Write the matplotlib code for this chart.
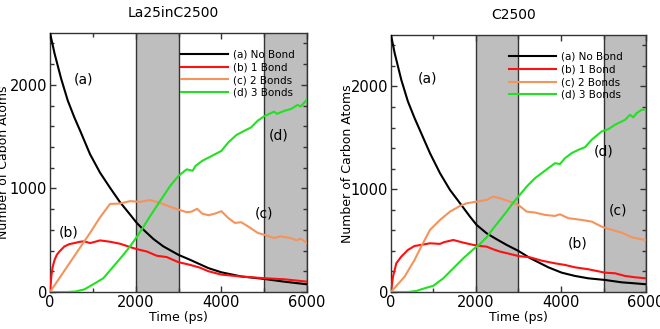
import numpy as np
import matplotlib
matplotlib.use("Agg")
import matplotlib.pyplot as plt
from matplotlib.ticker import MultipleLocator

# ============================================================
# DATA
# ============================================================
# --- La25inC2500 (left) ---
la25_t_a = [0, 107, 260, 414, 567, 720, 934, 1167, 1401, 1634, 1868, 2024, 2179, 2412,
            2646, 2996, 3268, 3700, 4000, 4465, 5000, 5460, 6000]
la25_a = [2500, 2300, 2058, 1848, 1686, 1540, 1330, 1152, 1006, 867, 748, 667, 602, 512,
          440, 359, 311, 230, 190, 150, 126, 100, 74]

la25_t_b = [0, 30, 60, 107, 160, 222, 337, 450, 567, 700, 800, 934, 1000, 1167, 1401, 1634,
            1868, 2024, 2257, 2490, 2724, 2996, 3268, 3500, 3700, 4000, 4465, 5000, 5460, 6000]
la25_b = [0, 150, 240, 311, 360, 392, 440, 462, 472, 485, 489, 472, 479, 498, 485, 466,
          434, 414, 391, 350, 337, 288, 262, 235, 200, 168, 149, 133, 123, 100]

la25_t_c = [0, 720, 934, 1167, 1401, 1634, 1868, 2101, 2335, 2568, 2802, 2996, 3190, 3300,
            3435, 3550, 3700, 3855, 4000, 4160, 4313, 4465, 4620, 4850, 5000, 5230, 5380,
            5610, 5760, 5850, 6000]
la25_c = [0, 440, 570, 720, 850, 854, 877, 870, 887, 861, 822, 796, 770, 775,
          803, 757, 741, 757, 780, 715, 667, 673, 634, 570, 553, 521, 537,
          521, 498, 515, 472]

la25_t_d = [0, 400, 600, 800, 1012, 1245, 1479, 1712, 1868, 2024, 2179, 2335, 2490, 2646,
            2802, 2996, 3190, 3330, 3397, 3550, 3780, 4000, 4160, 4350, 4540, 4695, 4850,
            5000, 5230, 5300, 5480, 5630, 5780, 5850, 6000]
la25_d = [0, 0, 5, 25, 75, 133, 246, 359, 440, 531, 628, 731, 828, 925,
          1022, 1119, 1184, 1170, 1217, 1265, 1314, 1362, 1443, 1515, 1557, 1589, 1654,
          1696, 1741, 1720, 1750, 1767, 1806, 1790, 1857]

# --- C2500 (right) ---
c_t_a = [0, 86, 242, 398, 555, 711, 918, 1153, 1388, 1623, 1859, 2015, 2251, 2486, 2721,
         2996, 3271, 3702, 4016, 4330, 4643, 5035, 5427, 5741, 6000]
c_a = [2500, 2325, 2065, 1854, 1692, 1545, 1350, 1156, 993, 864, 733, 652, 571, 513, 458,
       400, 330, 240, 188, 156, 133, 117, 94, 84, 75]

c_t_b = [0, 47, 125, 242, 398, 555, 711, 918, 1153, 1250, 1467, 1702, 1937, 2094, 2251,
         2408, 2565, 2800, 2996, 3271, 3545, 3859, 4094, 4330, 4643, 5035, 5270, 5506,
         5741, 6000]
c_b = [0, 149, 279, 344, 409, 448, 458, 474, 468, 485, 506, 480, 458, 448, 441,
       415, 393, 370, 350, 337, 305, 279, 263, 240, 221, 188, 182, 156,
       143, 133]

c_t_c = [0, 320, 555, 711, 918, 1153, 1388, 1623, 1780, 2015, 2251, 2408, 2565, 2800, 2996,
         3192, 3388, 3623, 3859, 3976, 4173, 4487, 4722, 4957, 5192, 5427, 5662, 5897, 6000]
c_c = [0, 149, 312, 442, 604, 701, 782, 837, 863, 879, 896, 928, 912, 879, 847,
       782, 773, 750, 740, 756, 718, 701, 685, 636, 604, 578, 532, 513, 505]

c_t_d = [0, 400, 600, 789, 996, 1231, 1467, 1702, 1937, 2094, 2251, 2408, 2565, 2721, 2878,
         2996, 3192, 3388, 3545, 3702, 3859, 3976, 4094, 4251, 4408, 4565, 4722, 4957,
         5114, 5270, 5506, 5623, 5700, 5780, 5898, 6000]
c_d = [0, 0, 10, 36, 60, 133, 231, 328, 415, 467, 532, 620, 701, 782, 870,
       928, 1025, 1107, 1156, 1205, 1253, 1245, 1302, 1351, 1383, 1409, 1481, 1562,
       1584, 1627, 1675, 1724, 1700, 1740, 1773, 1775]

series_labels = ["(a) No Bond", "(b) 1 Bond", "(c) 2 Bonds", "(d) 3 Bonds"]
series_colors = ["black", "#ff1010", "#f4935a", "#22e022"]
shaded = [(2000, 3000), (5000, 6000)]

panels = [
    dict(title="La25inC2500", ylabel="Number of Cabon Atoms",
         data=[(la25_t_a, la25_a), (la25_t_b, la25_b), (la25_t_c, la25_c), (la25_t_d, la25_d)],
         notes=[("(a)", 780, 2055), ("(b)", 440, 575), ("(c)", 5000, 760), ("(d)", 5340, 1510)]),
    dict(title="C2500", ylabel="Number of Carbon Atoms",
         data=[(c_t_a, c_a), (c_t_b, c_b), (c_t_c, c_c), (c_t_d, c_d)],
         notes=[("(a)", 865, 2075), ("(b)", 4400, 475), ("(c)", 5335, 795), ("(d)", 5000, 1370)]),
]

# ============================================================
# PLOT
# ============================================================
fig = plt.figure(figsize=(6.6, 3.29), dpi=100)
rects = [[0.0758, 0.1125, 0.3894, 0.7872], [0.5924, 0.1125, 0.3864, 0.7810]]
title_x = [0.479, 0.482]
ylab_x = [-0.155, -0.145]
leg_anchor = [(0.51, 0.935), (0.463, 0.934)]

for i, p in enumerate(panels):
    ax = fig.add_axes(rects[i])
    for (x0, x1) in shaded:
        ax.axvspan(x0, x1, color="#bebebe", zorder=0, lw=0)
        ax.axvline(x0, color="#333333", lw=1.0, zorder=1)
        ax.axvline(x1, color="#333333", lw=1.0, zorder=1)

    for (t, y), lab, col in zip(p["data"], series_labels, series_colors):
        ax.plot(t, y, color=col, lw=1.5, label=lab, zorder=3)

    for txt, x, y in p["notes"]:
        ax.text(x, y, txt, fontsize=10, ha="center", va="center", zorder=4)

    ax.set_xlim(0, 6000)
    ax.set_ylim(0, 2500)
    ax.xaxis.set_major_locator(MultipleLocator(2000))
    ax.xaxis.set_minor_locator(MultipleLocator(1000))
    ax.yaxis.set_major_locator(MultipleLocator(1000))
    ax.yaxis.set_minor_locator(MultipleLocator(200))
    ax.tick_params(which="both", direction="in", top=True, right=True,
                   colors="#333333", labelcolor="black")
    ax.tick_params(which="major", length=4, width=1, labelsize=10.5, pad=2)
    ax.tick_params(which="minor", length=3, width=1)

    ax.set_title(p["title"], fontsize=10, pad=11.5, x=title_x[i])
    ax.set_xlabel("Time (ps)", fontsize=9, labelpad=1)
    ax.set_ylabel(p["ylabel"], fontsize=9)
    ax.yaxis.set_label_coords(ylab_x[i], 0.5)

    ax.legend(loc="upper left", bbox_to_anchor=leg_anchor[i], frameon=False,
              fontsize=7.5, handlelength=4.5, handletextpad=0.5, labelspacing=0.25,
              borderpad=0, borderaxespad=0)

    for spine in ax.spines.values():
        spine.set_color("#333333")
        spine.set_linewidth(1.0)

plt.savefig("out.png", dpi=100)
